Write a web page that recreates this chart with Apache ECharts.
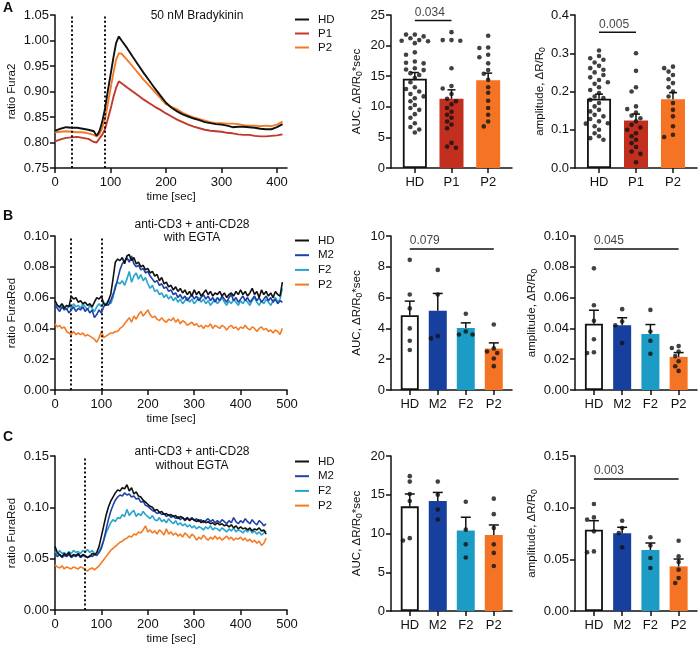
<!DOCTYPE html>
<html><head><meta charset="utf-8">
<script src="https://cdn.jsdelivr.net/npm/echarts@6/dist/echarts.min.js"></script>
<style>html,body{margin:0;padding:0;background:#fff}#c{width:698px;height:646px}</style>
</head><body><div id="c"></div>
<script>
// ---------- Panel A traces (Fura2 ratio, 50 nM Bradykinin) ----------
const timeA = [0,10,20,30,40,50,60,70,75,80,85,90,95,100,105,110,115,120,130,140,150,160,170,180,190,200,210,220,230,240,250,260,270,280,290,300,310,320,330,340,350,360,370,380,390,400,410];
const hdA = [.823,.827,.830,.829,.829,.827,.825,.822,.813,.822,.840,.866,.900,.932,.965,.995,1.008,1.000,.985,.968,.952,.936,.921,.906,.892,.878,.868,.861,.855,.851,.847,.844,.840,.838,.836,.835,.833,.830,.831,.831,.830,.829,.827,.826,.826,.830,.836];
const p1A = [.802,.806,.809,.810,.811,.809,.807,.801,.800,.808,.815,.826,.845,.865,.888,.907,.920,.916,.908,.900,.892,.884,.877,.870,.864,.857,.851,.845,.840,.835,.831,.828,.825,.823,.822,.821,.819,.818,.816,.815,.815,.813,.812,.812,.813,.814,.816];
const p2A = [.820,.821,.822,.821,.820,.820,.818,.815,.812,.816,.828,.845,.875,.905,.935,.962,.975,.974,.962,.949,.936,.923,.911,.899,.887,.875,.870,.865,.858,.853,.849,.846,.843,.840,.838,.838,.837,.837,.836,.834,.833,.833,.832,.833,.832,.835,.841];
const dottedA = [30, 90];

// ---------- Panel B traces (FuraRed, with EGTA) ----------
const timeB = [0,5,10,15,20,25,30,35,40,45,50,55,60,65,70,75,80,85,90,95,100,105,110,115,120,125,130,135,140,145,150,155,160,165,170,175,180,185,190,195,200,205,210,215,220,225,230,235,240,245,250,255,260,265,270,275,280,285,290,295,300,305,310,315,320,325,330,335,340,345,350,355,360,365,370,375,380,385,390,395,400,405,410,415,420,425,430,435,440,445,450,455,460,465,470,475,480,485,490];
const hdB = [.058,.055,.054,.056,.053,.055,.054,.061,.059,.060,
 .057,.058,.056,.057,.055,.056,.054,.057,.060,.059,
 .061,.056,.055,.058,.062,.072,.083,.085,.084,.086,
 .082,.087,.088,.084,.086,.082,.083,.080,.081,.078,
 .079,.076,.077,.074,.075,.071,.073,.069,.070,.067,
 .068,.065,.067,.064,.066,.063,.065,.062,.064,.061,
 .065,.062,.064,.061,.063,.065,.062,.064,.061,.063,
 .062,.064,.061,.063,.060,.062,.063,.061,.064,.062,
 .065,.062,.064,.061,.063,.066,.062,.064,.060,.065,
 .062,.064,.061,.063,.060,.064,.062,.061,.070];
const m2B = [.055,.053,.051,.054,.052,.053,.050,.052,.054,.051,
 .053,.052,.054,.051,.053,.050,.052,.047,.049,.052,
 .050,.054,.056,.055,.058,.062,.066,.072,.078,.082,
 .084,.086,.083,.087,.082,.080,.081,.078,.079,.076,
 .077,.074,.072,.070,.071,.068,.069,.066,.067,.064,
 .065,.062,.063,.060,.062,.059,.061,.058,.060,.062,
 .059,.061,.058,.060,.062,.059,.061,.058,.060,.057,
 .060,.058,.061,.059,.057,.060,.062,.058,.060,.057,
 .059,.061,.058,.060,.057,.059,.061,.058,.060,.057,
 .059,.061,.058,.060,.057,.059,.056,.058,.057];
const f2B = [.057,.055,.053,.056,.054,.052,.055,.053,.056,.054,
 .055,.053,.056,.054,.052,.055,.053,.051,.054,.056,
 .054,.057,.055,.058,.056,.060,.068,.070,.069,.071,
 .068,.072,.077,.070,.074,.076,.072,.075,.071,.073,
 .069,.066,.068,.064,.065,.062,.063,.060,.062,.059,
 .061,.058,.060,.057,.059,.056,.058,.060,.057,.059,
 .056,.058,.060,.057,.059,.056,.058,.055,.057,.059,
 .056,.058,.060,.057,.055,.058,.056,.059,.057,.055,
 .058,.056,.059,.057,.055,.058,.060,.057,.055,.058,
 .056,.059,.057,.055,.058,.060,.057,.059,.066];
const p2B = [.043,.041,.042,.040,.041,.038,.037,.036,.038,.036,
 .037,.036,.037,.035,.036,.035,.034,.033,.031,.034,
 .038,.034,.035,.036,.037,.037,.038,.038,.040,.041,
 .043,.045,.047,.044,.048,.046,.049,.051,.048,.050,
 .052,.049,.047,.048,.046,.045,.047,.045,.044,.046,
 .045,.047,.044,.046,.043,.045,.044,.042,.043,.044,
 .042,.043,.041,.042,.040,.042,.041,.043,.040,.042,
 .041,.040,.042,.041,.039,.041,.042,.040,.041,.039,
 .041,.040,.042,.040,.039,.041,.040,.038,.040,.041,
 .039,.040,.038,.039,.037,.039,.038,.036,.040];
const dottedB = [35, 100];

// ---------- Panel C traces (FuraRed, without EGTA) ----------
const timeC = timeB.slice(0, 92);
const hdC = [.062,.056,.054,.052,.055,.053,.056,.052,.054,.053,
 .055,.052,.054,.053,.051,.052,.055,.054,.056,.062,
 .072,.082,.092,.100,.106,.110,.114,.117,.116,.119,
 .118,.122,.116,.119,.113,.115,.111,.110,.107,.105,
 .103,.101,.100,.097,.098,.095,.096,.093,.094,.092,
 .093,.091,.092,.089,.091,.090,.088,.090,.087,.089,
 .088,.086,.088,.085,.087,.085,.086,.084,.085,.083,
 .085,.083,.084,.082,.083,.081,.083,.080,.082,.079,
 .081,.079,.080,.078,.080,.077,.079,.078,.080,.077,
 .078,.074];
const m2C = [.055,.052,.054,.051,.053,.052,.054,.051,.053,.052,
 .054,.051,.053,.052,.051,.053,.052,.054,.053,.056,
 .060,.068,.078,.088,.096,.102,.107,.110,.112,.111,
 .114,.112,.113,.110,.111,.108,.109,.105,.106,.102,
 .101,.099,.097,.096,.094,.095,.093,.094,.091,.093,
 .090,.092,.089,.091,.088,.090,.087,.089,.088,.090,
 .087,.089,.086,.088,.085,.087,.089,.086,.088,.085,
 .087,.085,.088,.086,.084,.087,.085,.090,.086,.084,
 .087,.085,.089,.086,.084,.088,.085,.083,.087,.085,
 .082,.084];
const f2C = [.057,.054,.058,.055,.056,.054,.057,.055,.058,.056,
 .057,.055,.058,.056,.059,.056,.058,.055,.054,.057,
 .062,.068,.075,.080,.085,.088,.086,.090,.089,.093,
 .091,.098,.092,.095,.097,.091,.094,.092,.096,.093,
 .091,.089,.092,.088,.087,.090,.086,.088,.085,.089,
 .086,.084,.087,.083,.085,.082,.084,.081,.083,.080,
 .082,.079,.081,.080,.078,.081,.079,.082,.078,.080,
 .079,.077,.080,.078,.076,.079,.077,.080,.076,.078,
 .077,.075,.078,.076,.079,.075,.077,.074,.076,.073,
 .075,.077];
const p2C = [.044,.042,.041,.043,.040,.042,.041,.040,.042,.041,
 .040,.042,.041,.039,.038,.040,.041,.039,.041,.043,
 .046,.049,.052,.055,.058,.060,.062,.064,.066,.067,
 .069,.070,.072,.071,.074,.073,.076,.075,.078,.082,
 .076,.078,.075,.077,.074,.078,.076,.073,.079,.074,
 .076,.073,.075,.072,.074,.071,.075,.073,.070,.074,
 .072,.068,.071,.069,.073,.070,.068,.071,.069,.072,
 .069,.071,.068,.070,.072,.069,.071,.068,.070,.069,
 .071,.068,.070,.067,.069,.066,.068,.065,.067,.063,
 .065,.070];
const dottedC = [65];

// ---------- Bar panels ----------
const groupsA = ['HD', 'P1', 'P2'];
const groupsBC = ['HD', 'M2', 'F2', 'P2'];

const aucA_mean = [14.6, 11.3, 14.35];
const aucA_sem = [1.0, 1.47, 1.15];
const aucA_dots = [
 [21.8,21.8,21.5,21.2,20.9,20.8,20.7,20.4,18.9,18.5,17.4,17.2,17.1,16.3,16.1,16.0,15.5,15.2,14.7,14.0,13.2,12.9,12.5,12.1,11.7,11.4,10.9,10.3,9.8,9.5,8.8,8.2,7.3,6.7,6.3,5.8],
 [22.2,20.9,20.9,20.8,16.3,13.4,13.0,12.1,11.3,10.9,10.4,9.8,9.2,8.7,8.2,7.6,7.1,6.5,4.1,3.5,3.3],
 [21.6,19.7,19.6,18.5,18.1,17.1,16.0,15.4,14.4,13.2,12.3,11.0,9.8,8.7,7.6,6.8]
];
const ampA_mean = [0.181, 0.124, 0.180];
const ampA_sem = [0.012, 0.017, 0.017];
const ampA_dots = [
 [0.307,0.293,0.287,0.283,0.276,0.267,0.261,0.257,0.25,0.243,0.237,0.23,0.224,0.22,0.211,0.204,0.196,0.187,0.183,0.178,0.17,0.161,0.152,0.148,0.139,0.135,0.128,0.122,0.117,0.116,0.109,0.1,0.091,0.083,0.078,0.074],
 [0.3,0.254,0.211,0.2,0.161,0.154,0.145,0.137,0.13,0.122,0.113,0.106,0.1,0.091,0.083,0.074,0.065,0.055,0.043,0.037,0.015],
 [0.265,0.261,0.252,0.243,0.232,0.222,0.211,0.2,0.187,0.17,0.152,0.135,0.109,0.087,0.081]
];
const aucB_mean = [4.86, 5.14, 4.03, 2.69];
const aucB_sem = [0.91, 1.13, 0.33, 0.37];
const aucB_dots = [[8.45,6.2,5.3,4.0,3.2,2.6],[7.8,6.2,3.5,3.35],[4.95,3.8,3.6,3.6],[4.25,2.7,2.5,2.4,2.05,1.55]];
const ampB_mean = [0.0430, 0.0421, 0.0364, 0.0215];
const ampB_sem = [0.0088, 0.0048, 0.0061, 0.0028];
const ampB_dots = [[0.079,0.055,0.045,0.033,0.0245,0.024],[0.0525,0.0445,0.042,0.0305],[0.052,0.038,0.032,0.0235],[0.0285,0.0273,0.025,0.022,0.0187,0.0154,0.0124]];
const aucC_mean = [13.5, 14.2, 10.4, 9.8];
const aucC_sem = [1.6, 1.1, 1.7, 1.3];
const aucC_dots = [[17.4,16.7,15.1,14.2,9.4,9.1],[16.7,15.0,13.1,11.8],[14.1,10.5,8.6,6.9],[14.5,12.5,10.7,8.6,7.5,5.8]];
const ampC_mean = [0.0787, 0.0752, 0.059, 0.0432];
const ampC_sem = [0.0087, 0.0058, 0.0068, 0.0071];
const ampC_dots = [[0.1035,0.0906,0.0884,0.0771,0.0577,0.0568],[0.0874,0.0803,0.0755,0.0616],[0.0713,0.0635,0.0513,0.0416],[0.068,0.0529,0.0474,0.04,0.0319,0.0271]];

const sigA_auc = [0, 1, 24.1, '0.034'];
const sigA_amp = [0, 1, 0.355, '0.005'];
const sigB_auc = [0, 3, 9.15, '0.079'];
const sigB_amp = [0, 3, 0.0915, '0.045'];
const sigC_amp = [0, 3, 0.1277, '0.003'];

// ---------- rendering ----------
const FF = 'Liberation Sans, Arial, Helvetica, sans-serif';
const INK = '#111';
const COL = {HD:'#111111', P1:'#c0392b', P2:'#f47b25', M2:'#1f40a6', F2:'#25a4cc'};
const BARCOL = {HD:'#ffffff', P1:'#c22f1f', P2:'#f47324', M2:'#173f9d', F2:'#1c9cc4'};

const grids = [], xAxes = [], yAxes = [], series = [];
const axLine = {show:true, onZero:false, lineStyle:{color:INK, width:1.5}};
const axTick = {show:true, length:5, lineStyle:{color:INK, width:1.5}};
const axLab = {color:INK, fontSize:13, fontFamily:FF, margin:6};
const rich = {sub:{fontSize:8.5, fontFamily:FF, lineHeight:8, verticalAlign:'bottom', color:INK}};

function addGrid(left, top, width, height){ grids.push({left, top, width, height, containLabel:false}); return grids.length-1; }

function yAxis(gi, min, max, interval, dec, name, gap){
  yAxes.push({type:'value', gridIndex:gi, min, max, interval,
    axisLine:axLine, axisTick:axTick, splitLine:{show:false},
    axisLabel:Object.assign({}, axLab, {formatter:v=>dec===null? String(Math.round(v)) : v.toFixed(dec)}),
    name, nameLocation:'middle', nameGap:gap,
    nameTextStyle:{color:INK, fontSize:11.5, fontFamily:FF, lineHeight:15, rich}});
}

function linePanel(left, top, height, xmax, xTicks, ymin, ymax, yint, yname, time, lines, dotted, lw){
  const gi = addGrid(left, top, 232, height);
  xAxes.push({type:'value', gridIndex:gi, min:0, max:xmax,
    axisLine:axLine, axisTick:Object.assign({}, axTick, {customValues:xTicks}), splitLine:{show:false},
    axisLabel:Object.assign({}, axLab, {margin:8, customValues:xTicks, formatter:v=>String(v)}),
    name:'time [sec]', nameLocation:'middle', nameGap:23,
    nameTextStyle:{color:INK, fontSize:11.5, fontFamily:FF}});
  yAxis(gi, ymin, ymax, yint, 2, yname, 31);
  lines.forEach((ln, k)=>{
    const s = {type:'line', name:ln[0], xAxisIndex:gi, yAxisIndex:gi, showSymbol:false, symbol:'none',
      color:COL[ln[0]], lineStyle:{color:COL[ln[0]], width:lw}, itemStyle:{color:COL[ln[0]]},
      data: time.map((t,i)=>[t, ln[1][i]]), animation:false, z:2 + (lines.length - k)};
    if(k===0){
      s.markLine = {silent:true, symbol:['none','none'], label:{show:false},
        lineStyle:{color:INK, type:[2,2.4], width:2}, emphasis:{disabled:true},
        data: dotted.map(x=>({xAxis:x}))};
    }
    series.push(s);
  });
}

// horizontal de-overlap of dots (layout only; values are untouched)
function swarm(vals, pxPerUnit, spacingPx, step, dist){
  const placed = [], out = [];
  const sorted = vals.slice().sort((a,b)=>b-a);
  for(const v of sorted){
    const y = v*pxPerUnit;
    for(const k of [0,-1,1,-2,2,-3,3,-4,4,-5,5,-6,6]){
      const x = k*step;
      if(placed.every(p=>Math.hypot(p[0]-x, p[1]-y) >= dist)){ placed.push([x,y]); out.push([x/spacingPx, v]); break; }
    }
  }
  return out;
}

function barPanel(left, top, height, width, groups, xmin, xmax, ymax, yint, dec, yname, gap, means, sems, dots, barW, capW, sig){
  const gi = addGrid(left, top, width, height);
  const ticks = groups.map((g,i)=>i);
  xAxes.push({type:'value', gridIndex:gi, min:xmin, max:xmax,
    axisLine:axLine, axisTick:Object.assign({}, axTick, {customValues:ticks}), splitLine:{show:false},
    axisLabel:Object.assign({}, axLab, {margin:8, customValues:ticks, formatter:v=>groups[Math.round(v)]})});
  yAxis(gi, 0, ymax, yint, dec, yname, gap);
  const spacing = width/(xmax-xmin);
  const pxPer = height/ymax;
  series.push({type:'bar', name:'_bar'+gi, xAxisIndex:gi, yAxisIndex:gi, barWidth:barW, animation:false, silent:true,
    data: means.map((m,i)=>({value:[i,m], itemStyle: i===0 ? {color:'#fff', borderColor:INK, borderWidth:1.8} : {color:BARCOL[groups[i]], borderWidth:0}})), z:2});
  series.push({type:'custom', name:'_err'+gi, xAxisIndex:gi, yAxisIndex:gi, animation:false, silent:true, z:3,
    data: means.map((m,i)=>[i, m, m+sems[i]]), encode:{x:0, y:[1,2]},
    renderItem:(p, api)=>{
      const a = api.coord([api.value(0), api.value(1)]);
      const b = api.coord([api.value(0), api.value(2)]);
      const st = {stroke:INK, lineWidth:1.5};
      return {type:'group', children:[
        {type:'line', shape:{x1:a[0], y1:a[1], x2:b[0], y2:b[1]}, style:st},
        {type:'line', shape:{x1:b[0]-capW/2, y1:b[1], x2:b[0]+capW/2, y2:b[1]}, style:st}]};
    }});
  const pts = [];
  const step = barW >= 22 ? 4.4 : 3.4;
  dots.forEach((arr, i)=>{ swarm(arr, pxPer, spacing, step, 5.2).forEach(q=>pts.push([i+q[0], q[1]])); });
  series.push({type:'scatter', name:'_dot'+gi, xAxisIndex:gi, yAxisIndex:gi, symbolSize:4.6, animation:false, silent:true,
    itemStyle:{color:INK}, data:pts, z:4});
  if(sig){
    series.push({type:'line', name:'_sig'+gi, xAxisIndex:gi, yAxisIndex:gi, animation:false, silent:true, z:5,
      symbol:'none', showSymbol:false, lineStyle:{color:INK, width:1.5}, color:INK,
      data:[[sig[0], sig[2]], [sig[1], sig[2]]]});
    series.push({type:'scatter', name:'_sigt'+gi, xAxisIndex:gi, yAxisIndex:gi, animation:false, silent:true, z:5,
      symbolSize:0, itemStyle:{color:'transparent'},
      label:{show:true, formatter:sig[3], position:'top', distance:2, align:'left', verticalAlign:'bottom',
        color:INK, fontSize:12, fontFamily:FF},
      data:[[sig[0], sig[2]]]});
  }
}

const aucName = 'AUC, ΔR/R{sub|0}*sec';
const ampName = 'amplitude, ΔR/R{sub|0}';

// Row A
linePanel(55, 15, 153, 418, [0,100,200,300,400], 0.75, 1.05, 0.05, 'ratio Fura2', timeA,
  [['HD', hdA], ['P1', p1A], ['P2', p2A]], dottedA, 1.9);
barPanel(391, 15, 153, 121, groupsA, -0.65, 2.65, 25, 5, null, aucName, 27, aucA_mean, aucA_sem, aucA_dots, 24, 8, sigA_auc);
barPanel(575, 15, 153, 122, groupsA, -0.65, 2.65, 0.4, 0.1, 1, ampName, 27, ampA_mean, ampA_sem, ampA_dots, 24, 8, sigA_amp);
// Row B
linePanel(55, 236, 154, 500, [0,100,200,300,400,500], 0, 0.10, 0.02, 'ratio FuraRed', timeB,
  [['HD', hdB], ['M2', m2B], ['F2', f2B], ['P2', p2B]], dottedB, 1.6);
barPanel(391, 236, 154, 121, groupsBC, -0.67, 3.65, 10, 2, null, aucName, 27, aucB_mean, aucB_sem, aucB_dots, 18, 10, sigB_auc);
barPanel(575, 236, 154, 122, groupsBC, -0.67, 3.65, 0.10, 0.02, 2, ampName, 36, ampB_mean, ampB_sem, ampB_dots, 18, 10, sigB_amp);
// Row C
linePanel(55, 456, 155, 500, [0,100,200,300,400,500], 0, 0.15, 0.05, 'ratio FuraRed', timeC,
  [['HD', hdC], ['M2', m2C], ['F2', f2C], ['P2', p2C]], dottedC, 1.6);
barPanel(391, 456, 155, 121, groupsBC, -0.67, 3.65, 20, 5, null, aucName, 27, aucC_mean, aucC_sem, aucC_dots, 18, 10, null);
barPanel(575, 456, 155, 122, groupsBC, -0.67, 3.65, 0.15, 0.05, 2, ampName, 36, ampC_mean, ampC_sem, ampC_dots, 18, 10, sigC_amp);

const legendBase = {orient:'vertical', left:290, icon:'rect', itemWidth:14, itemHeight:2, selectedMode:false,
  textStyle:{color:INK, fontSize:11.5, fontFamily:FF, lineHeight:13, padding:[0,0,0,4]}};
const legends = [
  Object.assign({}, legendBase, {top:8, itemGap:1, data:['HD','P1','P2']}),
  Object.assign({}, legendBase, {top:229, itemGap:1.7, data:['HD','M2','F2','P2']}),
  Object.assign({}, legendBase, {top:450, itemGap:1.7, data:['HD','M2','F2','P2']})
];

function txt(x, y, t, font, align){ return {type:'text', x, y, silent:true, style:{text:t, font, fill:INK, align:align||'center', verticalAlign:'middle'}}; }
const TF = '12px ' + FF;
const graphic = [
  txt(3, 8, 'A', 'bold 14px ' + FF, 'left'),
  txt(3, 216, 'B', 'bold 14px ' + FF, 'left'),
  txt(3, 437, 'C', 'bold 14px ' + FF, 'left'),
  txt(197, 16, '50 nM Bradykinin', TF),
  txt(192, 225, 'anti-CD3 + anti-CD28', TF),
  txt(192, 238, 'with EGTA', TF),
  txt(192, 452, 'anti-CD3 + anti-CD28', TF),
  txt(192, 466, 'without EGTA', TF)
];

const chart = echarts.init(document.getElementById('c'), null, {renderer:'canvas'});
chart.setOption({animation:false, backgroundColor:'#fff', grid:grids, xAxis:xAxes, yAxis:yAxes, series, legend:legends, graphic});
</script></body></html>
